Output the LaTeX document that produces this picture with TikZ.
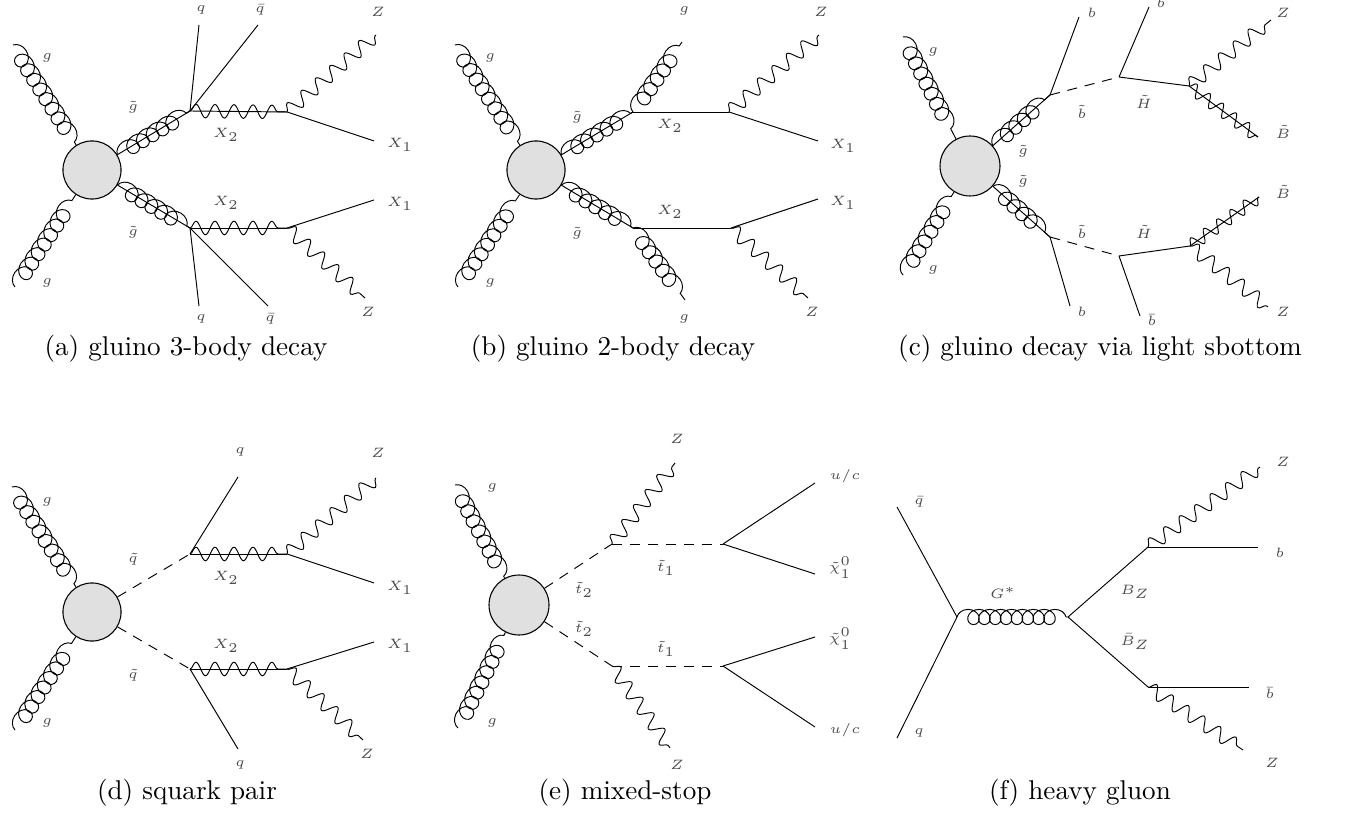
\documentclass[tikz,border=0pt]{standalone}
\usetikzlibrary{decorations.pathmorphing}
\tikzset{
  plain/.style={draw, line width=0.35pt},
  gluon/.style={draw, line width=0.35pt, decorate, decoration={coil, amplitude=3pt, segment length=4.2pt, aspect=1.1}},
  gluonG/.style={draw, line width=0.35pt, decorate, decoration={coil, amplitude=2.8pt, segment length=4pt, aspect=1.1}},
  gluino/.style={draw, line width=0.35pt, postaction={draw, decorate, decoration={coil, amplitude=3pt, segment length=4.2pt, aspect=1.1}}},
  boson/.style={draw, line width=0.35pt, decorate, decoration={snake, amplitude=2.5pt, segment length=7pt}},
  wino/.style={draw, line width=0.35pt, postaction={draw, decorate, decoration={snake, amplitude=2.5pt, segment length=7pt}}},
  bino/.style={draw, line width=0.35pt, postaction={draw, decorate, decoration={snake, amplitude=2.3pt, segment length=6pt}}},
  scalar/.style={draw, line width=0.35pt, dash pattern=on 3.7pt off 2.9pt},
  blob/.style={circle, draw, line width=0.4pt, fill=black!12, minimum size=21.4pt, inner sep=0pt},
  lbl/.style={font=\tiny, text=black!70, inner sep=0pt},
  captxt/.style={font=\normalsize, inner sep=0pt}
}
\begin{document}
\begin{tikzpicture}[x=0.3684pt,y=-0.3684pt]
\useasboundingbox (0,0) rectangle (1346,820);
% ---------------- (a)
\node[blob] (A) at (92,170) {};
\coordinate (Ag1) at (13,45);
\coordinate (Ag2) at (15,287);
\coordinate (AV1) at (190,111);
\coordinate (AV2) at (287,112);
\coordinate (AV3) at (190,228);
\coordinate (AV4) at (287,228);
\coordinate (Aq1) at (199,25);
\coordinate (Aqb1) at (258,25);
\coordinate (AZ1) at (376,35);
\coordinate (AX1) at (374,141);
\coordinate (AX1b) at (374,200);
\coordinate (AZ2) at (365,298);
\coordinate (Aq2) at (199,306);
\coordinate (Aqb2) at (268,306);
\draw[gluon] (Ag1) -- (A);
\draw[gluon] (Ag2) -- (A);
\draw[gluino] (A) -- (AV1);
\draw[gluino] (A) -- (AV3);
\draw[plain] (AV1) -- (Aq1);
\draw[plain] (AV1) -- (Aqb1);
\draw[wino] (AV1) -- (AV2);
\draw[boson] (AV2) -- (AZ1);
\draw[plain] (AV2) -- (AX1);
\draw[wino] (AV3) -- (AV4);
\draw[plain] (AV4) -- (AX1b);
\draw[boson] (AV4) -- (AZ2);
\draw[plain] (AV3) -- (Aq2);
\draw[plain] (AV3) -- (Aqb2);
\node[lbl] (la1) at (47,58) {$g$};
\node[lbl] (la2) at (47,283) {$g$};
\node[lbl] (la3) at (133,107) {$\tilde g$};
\node[lbl] (la4) at (133,232) {$\tilde g$};
\node[lbl] (la5) at (201,10) {$q$};
\node[lbl] (la6) at (260,10) {$\bar q$};
\node[lbl] (la7) at (226,135) {$X_2$};
\node[lbl] (la8) at (226,203) {$X_2$};
\node[lbl] (la9) at (378,12) {$Z$};
\node[lbl] (la10) at (400,145) {$X_1$};
\node[lbl] (la11) at (400,204) {$X_1$};
\node[lbl] (la12) at (368,312) {$Z$};
\node[lbl] (la13) at (201,319) {$q$};
\node[lbl] (la14) at (270,319) {$\bar q$};
\node[captxt] (capa) at (186,349) {(a) gluino 3-body decay};
% ---------------- (b)
\node[blob] (B) at (536,170) {};
\coordinate (Bg1) at (455,45);
\coordinate (Bg2) at (458,287);
\coordinate (BV1) at (633,112);
\coordinate (BV2) at (729,112);
\coordinate (BV3) at (633,228);
\coordinate (BV4) at (731,228);
\coordinate (Bg3) at (682,42);
\coordinate (Bg4) at (685,300);
\coordinate (BZ1) at (819,35);
\coordinate (BX1) at (818,141);
\coordinate (BX1b) at (818,199);
\coordinate (BZ2) at (808,298);
\draw[gluon] (Bg1) -- (B);
\draw[gluon] (Bg2) -- (B);
\draw[gluino] (B) -- (BV1);
\draw[gluino] (B) -- (BV3);
\draw[gluon] (BV1) -- (Bg3);
\draw[gluon] (BV3) -- (Bg4);
\draw[plain] (BV1) -- (BV2);
\draw[plain] (BV3) -- (BV4);
\draw[boson] (BV2) -- (BZ1);
\draw[boson] (BV4) -- (BZ2);
\draw[plain] (BV2) -- (BX1);
\draw[plain] (BV4) -- (BX1b);
\node[lbl] (lb1) at (490,58) {$g$};
\node[lbl] (lb2) at (490,283) {$g$};
\node[lbl] (lb3) at (577,117) {$\tilde g$};
\node[lbl] (lb4) at (577,233) {$\tilde g$};
\node[lbl] (lb5) at (684,11) {$g$};
\node[lbl] (lb6) at (684,319) {$g$};
\node[lbl] (lb7) at (670,126) {$X_2$};
\node[lbl] (lb8) at (670,212) {$X_2$};
\node[lbl] (lb9) at (821,12) {$Z$};
\node[lbl] (lb10) at (843,146) {$X_1$};
\node[lbl] (lb11) at (843,203) {$X_1$};
\node[lbl] (lb12) at (812,312) {$Z$};
\node[captxt] (capb) at (613,349) {(b) gluino 2-body decay};
% ---------------- (c)
\node[blob, minimum size=22.1pt] (C) at (970,166) {};
\coordinate (Cg1) at (903,37);
\coordinate (Cg2) at (903,275);
\coordinate (CV1) at (1050,95);
\coordinate (CV3) at (1050,237);
\coordinate (Cb1) at (1079,17);
\coordinate (Cb3) at (1070,306);
\coordinate (CV2) at (1119,77);
\coordinate (CV4) at (1119,256);
\coordinate (Cb2) at (1149,7);
\coordinate (Cb4) at (1140,316);
\coordinate (CV5) at (1189,86);
\coordinate (CV6) at (1190,246);
\coordinate (CZ1) at (1271,20);
\coordinate (CB1) at (1258,137);
\coordinate (CB2) at (1259,197);
\coordinate (CZ2) at (1268,307);
\draw[gluon] (Cg1) -- (C);
\draw[gluon] (Cg2) -- (C);
\draw[gluino] (C) -- (CV1);
\draw[gluino] (C) -- (CV3);
\draw[plain] (CV1) -- (Cb1);
\draw[plain] (CV3) -- (Cb3);
\draw[scalar] (CV1) -- (CV2);
\draw[scalar] (CV3) -- (CV4);
\draw[plain] (CV2) -- (Cb2);
\draw[plain] (CV4) -- (Cb4);
\draw[plain] (CV2) -- (CV5);
\draw[plain] (CV4) -- (CV6);
\draw[boson] (CV5) -- (CZ1);
\draw[boson] (CV6) -- (CZ2);
\draw[bino] (CV5) -- (CB1);
\draw[bino] (CV6) -- (CB2);
\node[lbl] (lc1) at (933,52) {$g$};
\node[lbl] (lc2) at (933,270) {$g$};
\node[lbl] (lc3) at (1023,151) {$\tilde g$};
\node[lbl] (lc4) at (1023,181) {$\tilde g$};
\node[lbl] (lc5) at (1092,13) {$b$};
\node[lbl] (lc6) at (1082,112) {$\tilde b$};
\node[lbl] (lc7) at (1161,3) {$b$};
\node[lbl] (lc8) at (1144,102) {$\tilde H$};
\node[lbl] (lc9) at (1283,13) {$Z$};
\node[lbl] (lc10) at (1283,132) {$\tilde B$};
\node[lbl] (lc11) at (1082,312) {$b$};
\node[lbl] (lc12) at (1082,232) {$\tilde b$};
\node[lbl] (lc13) at (1152,320) {$\bar b$};
\node[lbl] (lc14) at (1144,232) {$\tilde H$};
\node[lbl] (lc15) at (1283,192) {$\tilde B$};
\node[lbl] (lc16) at (1283,312) {$Z$};
\node[captxt] (capc) at (1100,349) {(c) gluino decay via light sbottom};
% ---------------- (d)
\node[blob] (D) at (92,612) {};
\coordinate (Dg1) at (12,487);
\coordinate (Dg2) at (15,730);
\coordinate (DV1) at (190,554);
\coordinate (DV3) at (190,669);
\coordinate (DV2) at (287,554);
\coordinate (DV4) at (287,669);
\coordinate (Dq1) at (238,477);
\coordinate (Dq2) at (238,749);
\coordinate (DZ1) at (376,478);
\coordinate (DX1) at (374,583);
\coordinate (DX1b) at (374,642);
\coordinate (DZ2) at (363,740);
\draw[gluon] (Dg1) -- (D);
\draw[gluon] (Dg2) -- (D);
\draw[scalar] (D) -- (DV1);
\draw[scalar] (D) -- (DV3);
\draw[plain] (DV1) -- (Dq1);
\draw[plain] (DV3) -- (Dq2);
\draw[wino] (DV1) -- (DV2);
\draw[wino] (DV3) -- (DV4);
\draw[boson] (DV2) -- (DZ1);
\draw[boson] (DV4) -- (DZ2);
\draw[plain] (DV2) -- (DX1);
\draw[plain] (DV4) -- (DX1b);
\node[lbl] (ld1) at (47,502) {$g$};
\node[lbl] (ld2) at (47,723) {$g$};
\node[lbl] (ld3) at (133,559) {$\tilde q$};
\node[lbl] (ld4) at (133,675) {$\tilde q$};
\node[lbl] (ld5) at (240,452) {$q$};
\node[lbl] (ld6) at (226,578) {$X_2$};
\node[lbl] (ld7) at (226,646) {$X_2$};
\node[lbl] (ld8) at (378,453) {$Z$};
\node[lbl] (ld9) at (400,588) {$X_1$};
\node[lbl] (ld10) at (400,646) {$X_1$};
\node[lbl] (ld11) at (367,754) {$Z$};
\node[lbl] (ld12) at (240,765) {$q$};
\node[captxt] (capd) at (187,793) {(d) squark pair};
% ---------------- (e)
\node[blob, minimum size=22.1pt] (E) at (519,605) {};
\coordinate (Eg1) at (455,485);
\coordinate (Eg2) at (458,728);
\coordinate (EV1) at (612,544);
\coordinate (EV3) at (612,666);
\coordinate (EV2) at (723,544);
\coordinate (EV4) at (723,666);
\coordinate (EZ1) at (675,463);
\coordinate (EZ2) at (670,748);
\coordinate (Eu1) at (815,483);
\coordinate (Ec1) at (815,574);
\coordinate (Ec2) at (815,637);
\coordinate (Eu2) at (815,727);
\draw[gluon] (Eg1) -- (E);
\draw[gluon] (Eg2) -- (E);
\draw[scalar] (E) -- (EV1);
\draw[scalar] (E) -- (EV3);
\draw[scalar] (EV1) -- (EV2);
\draw[scalar] (EV3) -- (EV4);
\draw[boson] (EV1) -- (EZ1);
\draw[boson] (EV3) -- (EZ2);
\draw[plain] (EV2) -- (Eu1);
\draw[plain] (EV2) -- (Ec1);
\draw[plain] (EV4) -- (Ec2);
\draw[plain] (EV4) -- (Eu2);
\node[lbl] (le1) at (492,488) {$g$};
\node[lbl] (le2) at (492,723) {$g$};
\node[lbl] (le3) at (584,590) {$\tilde t_2$};
\node[lbl] (le4) at (584,629) {$\tilde t_2$};
\node[lbl] (le5) at (677,439) {$Z$};
\node[lbl] (le6) at (666,568) {$\tilde t_1$};
\node[lbl] (le7) at (666,649) {$\tilde t_1$};
\node[lbl] (le8) at (845,476) {$u/c$};
\node[lbl] (le9) at (840,568) {$\tilde\chi^0_1$};
\node[lbl] (le10) at (840,639) {$\tilde\chi^0_1$};
\node[lbl] (le11) at (845,730) {$u/c$};
\node[lbl] (le12) at (677,765) {$Z$};
\node[captxt] (cape) at (625,793) {(e) mixed-stop};
% ---------------- (f)
\coordinate (Fq1) at (897,507);
\coordinate (Fq2) at (897,738);
\coordinate (FV1) at (957,617);
\coordinate (FV2) at (1068,617);
\coordinate (FV3) at (1148,547);
\coordinate (FV4) at (1148,687);
\coordinate (FZ1) at (1260,467);
\coordinate (Fb1) at (1258,547);
\coordinate (Fb2) at (1249,687);
\coordinate (FZ2) at (1243,750);
\draw[plain] (Fq1) -- (FV1);
\draw[plain] (Fq2) -- (FV1);
\draw[gluonG] (FV1) -- (FV2);
\draw[plain] (FV2) -- (FV3);
\draw[plain] (FV2) -- (FV4);
\draw[boson] (FV3) -- (FZ1);
\draw[boson] (FV4) -- (FZ2);
\draw[plain] (FV3) -- (Fb1);
\draw[plain] (FV4) -- (Fb2);
\node[lbl] (lf1) at (919,502) {$\bar q$};
\node[lbl] (lf2) at (919,733) {$q$};
\node[lbl] (lf3) at (1003,593) {$G^*$};
\node[lbl] (lf4) at (1135,592) {$B_Z$};
\node[lbl] (lf5) at (1135,642) {$\bar B_Z$};
\node[lbl] (lf6) at (1283,462) {$Z$};
\node[lbl] (lf7) at (1280,553) {$b$};
\node[lbl] (lf8) at (1270,693) {$\bar b$};
\node[lbl] (lf9) at (1272,763) {$Z$};
\node[captxt] (capf) at (1080,793) {(f) heavy gluon};
\end{tikzpicture}
\end{document}
